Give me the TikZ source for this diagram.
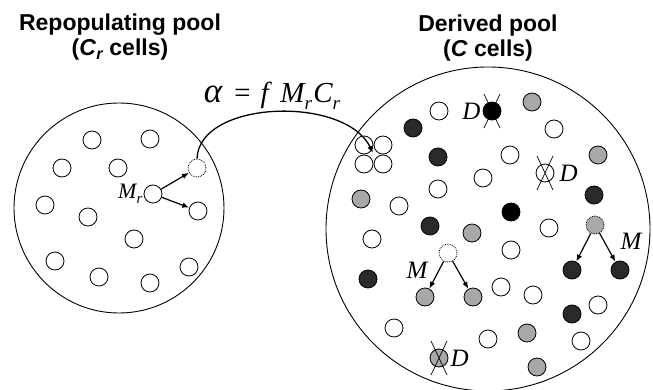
\documentclass[tikz,border=0pt]{standalone}
\usepackage{fontspec}
\setmainfont{Liberation Serif}
\newfontfamily\headfont{Liberation Sans}
\usetikzlibrary{positioning,arrows.meta}
\definecolor{cellgray}{HTML}{A8A8A8}
\definecolor{celldark}{HTML}{2A2A2A}
\newcommand{\low}[1]{\raisebox{-0.5ex}{\fontsize{19}{19}\selectfont #1}}

\begin{document}
\begin{tikzpicture}[x=1pt,y=-1pt,
cell/.style={circle,draw,line width=0.8pt,minimum size=18pt,inner sep=0pt,fill=white},
grey/.style={cell,fill=cellgray},dark/.style={cell,fill=celldark},blk/.style={cell,fill=black},
born/.style={densely dotted},
pool/.style={circle,draw,line width=0.9pt,inner sep=0pt},
lbl/.style={font=\fontsize{25}{25}\selectfont\itshape,inner sep=0pt},
title/.style={font=\headfont\bfseries\fontsize{23}{25}\selectfont,align=center},
div/.style={-{Latex[length=7pt,width=5.5pt]},line width=1.2pt}]
\useasboundingbox (0,0) rectangle (653,390);
% the two pools
\node[pool,minimum size=210pt] (rpool) at (119,208) {};
\node[pool,minimum size=324pt] (dpool) at (488,229) {};
\node[title] (rtitle) at (120,37) {Repopulating pool\\(\textit{C}\textsubscript{\itshape r} cells)};
\node[title] (dtitle) at (488,38) {Derived pool\\(\textit{C} cells)};
% repopulating cells
\foreach \n/\x/\y in %
{1/92/140,2/150/139,3/62/168,4/118/168,6/45/205,7/88/217,8/134/239,9/55/261,10/99/277,11/150/283,12/189/267} {
   \node[cell] (r\n) at (\x,\y) {};
}
\node[cell] (mr) at (153,194) {};
\node[cell,born] (out) at (197,168) {};
\node[cell] (stay) at (198,211) {};
\node[lbl,font=\fontsize{22}{22}\selectfont\itshape,left=1pt of mr] (mrlbl) {M\raisebox{-0.5ex}{\fontsize{15}{15}\selectfont r}};
\draw[div] (mr) -- (out);
\draw[div] (mr) -- (stay);
% cells entering the derived pool
\foreach \n/\x/\y in %
{a/364/145,b/383/145,c/364/164,d/383/164} {
   \node[cell,fill=none] (in\n) at (\x,\y) {};
}
\coordinate (entry) at (373,153);
\node[lbl,font=\fontsize{29}{29}\selectfont\itshape] (rate) at (272,96)
   {{\fontsize{35}{35}\selectfont α}\hspace{0.35em}=\hspace{0.3em}f\hspace{0.4em}M\low{r}\hspace{0.05em}C\low{r}};
\draw[div,line width=1.3pt] (out.north) .. controls (199,100) and (345,95) .. (entry);
% derived cells
\foreach \n/\x/\y in %
{1/439/111,2/554/129,3/510/155,4/483/178,5/438/189,6/399/206,7/549/228,8/372/239,9/511/250,10/501/287,11/533/295,12/598/305,13/394/328,14/488/339,15/581/341} {
   \node[cell] (w\n) at (\x,\y) {};
}
\foreach \n/\x/\y in %
{1/532/102,2/598/155,3/361/199,4/472/233,5/527/333,6/537/367} {
   \node[grey] (g\n) at (\x,\y) {};
}
\foreach \n/\x/\y in %
{1/413/128,2/438/157,3/594/195,4/430/226,5/368/279,6/572/314} {
   \node[dark] (b\n) at (\x,\y) {};
}
\node[blk] (b7) at (511,212) {};
% dying cells
\node[blk] (k1) at (492,111) {};
\node[cell] (k2) at (545,173) {};
\node[grey] (k3) at (439,358) {};
\foreach \k in {k1,k2,k3} {
   \draw[line width=0.7pt] (\k.center) +(-8,-17) -- +(8,17) (\k.center) +(8,-17) -- +(-8,17);
}
\node[lbl,left=2pt of k1] (d1) {D};
\node[lbl,right=5pt of k2] (d2) {D};
\node[lbl,right=2pt of k3] (d3) {D};
% dividing cells
\node[cell,born] (pw) at (448,253) {};
\node[grey] (pw1) at (425,297) {};
\node[grey] (pw2) at (473,297) {};
\node[grey,born] (pg) at (595,225) {};
\node[dark] (pg1) at (572,270) {};
\node[dark] (pg2) at (620,270) {};
\draw[div] (pw) -- (pw1);
\draw[div] (pw) -- (pw2);
\draw[div] (pg) -- (pg1);
\draw[div] (pg) -- (pg2);
\node[lbl] (m1) at (417,270) {M};
\node[lbl] (m2) at (631,241) {M};
\end{tikzpicture}
\end{document}
